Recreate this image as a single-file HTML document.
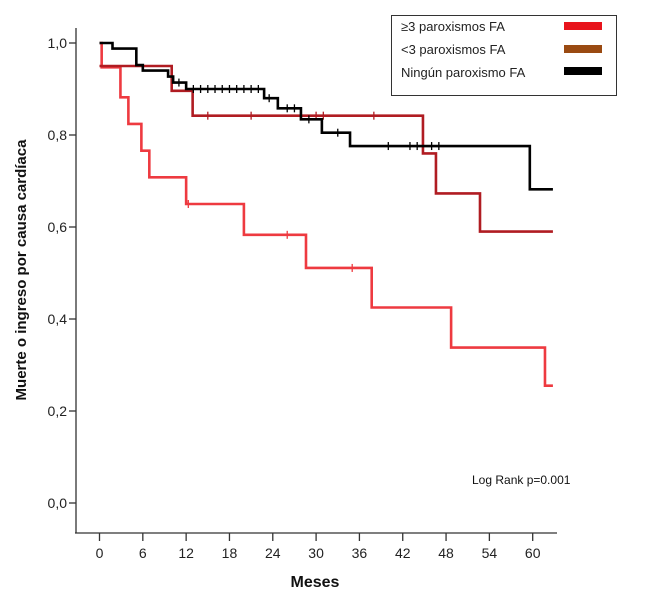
<!DOCTYPE html>
<html><head><meta charset="utf-8"><style>
body{margin:0;background:#fff;width:646px;height:600px;overflow:hidden}
svg{display:block;font-family:"Liberation Sans",sans-serif}
</style></head><body>
<svg id="chart" width="646" height="600" viewBox="0 0 646 600">
<g id="axes"></g>
<g id="curves"></g>
<g>
<rect x="391.5" y="15.5" width="225" height="80" fill="#fff" stroke="#333" stroke-width="1"/>
<text x="401" y="31" font-size="13" fill="#222">≥3 paroxismos FA</text>
<text x="401" y="54" font-size="13" fill="#222">&lt;3 paroxismos FA</text>
<text x="401" y="77" font-size="13" fill="#222">Ningún paroxismo FA</text>
<rect x="564" y="22" width="38" height="8" fill="#e8141c"/>
<rect x="564" y="45" width="38" height="8" fill="#9a4a12"/>
<rect x="564" y="67" width="38" height="8" fill="#000"/>
</g>
<text x="472" y="484" font-size="12" fill="#111">Log Rank p=0.001</text>
<text x="315" y="587" font-size="16" font-weight="bold" text-anchor="middle" fill="#111">Meses</text>
<text transform="translate(26,270) rotate(-90)" font-size="15" font-weight="bold" text-anchor="middle" fill="#111">Muerte o ingreso por causa cardíaca</text>
</svg>
<script>
const xTicks=[0,6,12,18,24,30,36,42,48,54,60];
const yTicks=[0,0.2,0.4,0.6,0.8,1.0];
const yTickLabels=["0,0","0,2","0,4","0,6","0,8","1,0"];
const blackT=[0,1.8,5.1,6.0,9.5,10.2,12.0,22.8,24.7,27.9,30.8,34.7,59.6,62.8];
const blackS=[1.0,0.988,0.952,0.94,0.927,0.914,0.90,0.88,0.858,0.834,0.805,0.776,0.682,0.682];
const blackCens=[[11,0.914],[13,0.90],[14,0.90],[15,0.90],[16,0.90],[17,0.90],[18,0.90],[19,0.90],[20,0.90],[21,0.90],[22,0.90],[23.5,0.88],[26,0.858],[27,0.858],[29,0.834],[33,0.805],[40,0.776],[43,0.776],[44,0.776],[46,0.776],[47,0.776]];
const dredT=[0,10,12.9,44.8,46.6,52.7,62.8];
const dredS=[0.95,0.896,0.842,0.76,0.673,0.59,0.59];
const dredCens=[[15,0.842],[21,0.842],[30,0.842],[31,0.842],[38,0.842]];
const redT=[0,0.3,2.9,4.0,5.8,6.9,12.0,20.0,28.6,37.7,48.7,61.7,62.8];
const redS=[1.0,0.947,0.882,0.824,0.766,0.708,0.65,0.583,0.511,0.425,0.338,0.255,0.255];
const redCens=[[12.3,0.65],[26,0.583],[35,0.511]];
const NS="http://www.w3.org/2000/svg";
const xs=t=>99.5+t*7.22, ys=v=>503-v*460;
function mk(tag,attrs,parent){const e=document.createElementNS(NS,tag);for(const k in attrs)e.setAttribute(k,attrs[k]);parent.appendChild(e);return e;}
const ax=document.getElementById('axes');
let l=mk('line',{x1:76,y1:28,x2:76,y2:533,stroke:'#333','stroke-width':1.3},ax);


l=mk('line',{x1:75,y1:533,x2:557,y2:533,stroke:'#333','stroke-width':1.3},ax);


xTicks.forEach(t=>{
 const tk=mk('line',{x1:xs(t),y1:533,x2:xs(t),y2:541,stroke:'#333','stroke-width':1.3},ax);
 
 
 const tx=mk('text',{x:xs(t),y:558,'font-size':14,'text-anchor':'middle',fill:'#222'},ax);
 tx.textContent=t;
 
 
});
yTicks.forEach((v,i)=>{
 const tk=mk('line',{x1:69,y1:ys(v),x2:76,y2:ys(v),stroke:'#333','stroke-width':1.3},ax);
 
 
 const tx=mk('text',{x:67,y:ys(v)+5,'font-size':14,'text-anchor':'end',fill:'#222'},ax);
 tx.textContent=yTickLabels[i];
 
 
});
const cv=document.getElementById('curves');
function curve(T,S,cens,color,name){
 let d='M'+xs(T[0])+','+ys(S[0]);
 for(let i=1;i<T.length;i++){d+=' H'+xs(T[i])+' V'+ys(S[i]);}
 const p=mk('path',{d:d,fill:'none',stroke:color,'stroke-width':2.6},cv);
 
 
 cens.forEach(c=>{
  const m=mk('line',{x1:xs(c[0]),y1:ys(c[1])-4,x2:xs(c[0]),y2:ys(c[1])+4,stroke:color,'stroke-width':1.3},cv);
  
  
 });
}
curve(redT,redS,redCens,'#ee3a40','curve-ge3');
curve(dredT,dredS,dredCens,'#b01c22','curve-lt3');
curve(blackT,blackS,blackCens,'#000','curve-none');
</script>
</body></html>
